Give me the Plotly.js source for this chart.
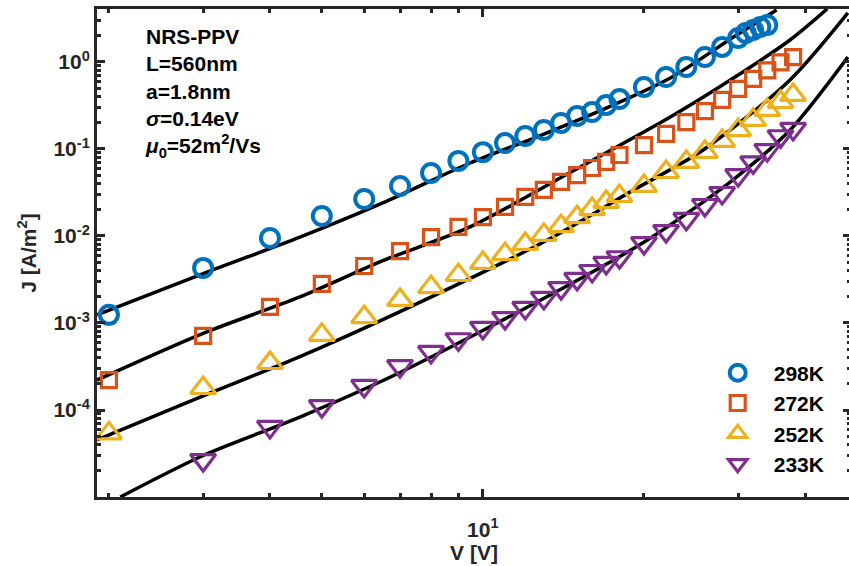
<!DOCTYPE html>
<html>
<head>
<meta charset="utf-8">
<script src="https://cdn.plot.ly/plotly-3.0.1.min.js"></script>
<style>
html,body{margin:0;padding:0;overflow:hidden;background:#fff;}
#chart{width:851px;height:566px;}
</style>
</head>
<body>
<div id="chart"></div>
<script>
// ---- data ----
const seriesNames = ["298K", "272K", "252K", "233K"];

const v298 = [2,3,4,5,6,7,8,9,10,11,12,13,14,15,16,17,18,20,22,24,26,28,30,31,32,33,34];
const j298 = [1.24e-3,4.3e-3,9.5e-3,0.017,0.0266,0.0376,0.053,0.073,0.092,0.117,0.141,0.165,0.199,0.239,0.266,0.321,0.376,0.516,0.673,0.877,1.14,1.49,1.89,2.15,2.33,2.53,2.66];

const v272 = [2,3,4,5,6,7,8,9,10,11,12,13,14,15,16,17,18,20,22,24,26,28,30,32,34,36,38];
const j272 = [2.21e-4,7.1e-4,1.53e-3,2.81e-3,4.52e-3,6.7e-3,9.7e-3,0.0127,0.0165,0.0216,0.0281,0.0338,0.0418,0.050,0.0605,0.071,0.0853,0.111,0.149,0.204,0.273,0.366,0.49,0.64,0.80,0.99,1.14];

const v252 = [2,3,4,5,6,7,8,9,10,11,12,13,14,15,16,17,18,20,22,24,26,28,30,32,34,36,38];
const j252 = [5.4e-5,1.79e-4,3.47e-4,7.3e-4,1.17e-3,1.84e-3,2.59e-3,3.56e-3,4.9e-3,6.2e-3,8.1e-3,0.0103,0.0130,0.0165,0.0204,0.0246,0.0288,0.0376,0.0544,0.071,0.0925,0.124,0.165,0.216,0.281,0.347,0.418];

const v233 = [3,4,5,6,7,8,9,10,11,12,13,14,15,16,17,18,20,22,24,26,28,30,32,34,36,38];
const j233 = [2.66e-5,6.4e-5,1.11e-4,1.89e-4,3.2e-4,4.65e-4,6.5e-4,8.8e-4,1.14e-3,1.49e-3,1.94e-3,2.52e-3,3.21e-3,3.96e-3,4.9e-3,5.7e-3,8.3e-3,0.0114,0.0157,0.0227,0.0312,0.05,0.07,0.097,0.14,0.17];

// model curves
const fitV298 = [1.9,3.0,4.55,6.5,9.46,12.6,16.7,22.4,29.8,35.4];
const fitJ298 = [1.24e-3,3.7e-3,9.7e-3,0.024,0.069,0.137,0.281,0.655,2.04,3.96];
const fitV272 = [1.9,3.0,4.55,6.5,9.46,14.5,22.4,29.8,37.5,44.0];
const fitJ272 = [2.21e-4,7.6e-4,1.99e-3,5.2e-3,0.0127,0.053,0.233,0.69,1.79,4.07];
const fitV252 = [1.9,3.0,4.55,7.0,13.2,19.0,25.8,37.5,48.1];
const fitJ252 = [4.52e-5,1.45e-4,4.1e-4,1.35e-3,9.0e-3,0.033,0.0974,0.621,3.66];
const fitV233 = [2.1,3.0,4.55,7.0,13.9,20.3,29.3,37.5,48.1];
const fitJ233 = [1.0e-5,3.0e-5,8.3e-5,2.7e-4,2.39e-3,9.0e-3,0.044,0.165,1.14];

const xMajor = [10];
const xMajorText = ["10<sup>1</sup>"];
const xMinor = [2,3,4,5,6,7,8,9,20,30,40];
const yMajor = [1e-4,1e-3,1e-2,1e-1,1];
const yMajorText = ["10<sup>-4</sup>","10<sup>-3</sup>","10<sup>-2</sup>","10<sup>-1</sup>","10<sup>0</sup>"];
const yMinor = [];
[1e-5,1e-4,1e-3,1e-2,1e-1,1].forEach(d => { for (let k = 2; k <= 9; k++) yMinor.push(k*d); });

const colors = ["#0072BD", "#D95319", "#EDB120", "#7E2F8E"];
const FONT = "Liberation Sans, Arial, sans-serif";
const AX = "#262626";

function fitTrace(x, y) {
  return {x: x, y: y, mode: "lines", type: "scatter", showlegend: false,
          line: {color: "#000000", width: 3.5, shape: "spline", smoothing: 0.8}, hoverinfo: "skip"};
}
function dataTrace(x, y, name, sym, color, size, lw) {
  return {x: x, y: y, mode: "markers", type: "scatter", name: name,
          marker: {symbol: sym, size: size, color: color, line: {color: color, width: lw}}};
}

const traces = [
  fitTrace(fitV298, fitJ298), fitTrace(fitV272, fitJ272),
  fitTrace(fitV252, fitJ252), fitTrace(fitV233, fitJ233),
  dataTrace(v298, j298, seriesNames[0], "circle-open", colors[0], 18, 4),
  dataTrace(v272, j272, seriesNames[1], "square-open", colors[1], 15, 3.2),
  dataTrace(v252, j252, seriesNames[2], "triangle-up-open", colors[2], 22, 3.2),
  dataTrace(v233, j233, seriesNames[3], "triangle-down-open", colors[3], 22, 3.2)
];

const axisCommon = {
  type: "log", showgrid: false, zeroline: false,
  showline: true, linecolor: AX, linewidth: 3, mirror: "ticks",
  ticks: "inside", ticklen: 8, tickwidth: 3, tickcolor: AX,
  tickmode: "array",
  tickfont: {family: FONT, size: 21, color: AX, weight: "bold"}
};

const layout = {
  width: 851, height: 566,
  margin: {l: 97, r: 0, t: 9, b: 69},
  paper_bgcolor: "#ffffff", plot_bgcolor: "#ffffff",
  font: {family: FONT, size: 20, color: AX, weight: "bold"},
  xaxis: Object.assign({}, axisCommon, {
    range: [Math.log10(1.9), 1.688],
    tickvals: xMajor, ticktext: xMajorText,
    ticklabelstandoff: 12,
    minor: {tickmode: "array", tickvals: xMinor, ticks: "inside", ticklen: 4, tickwidth: 3, tickcolor: AX},
    title: {text: "V [V]", font: {family: FONT, size: 21, color: AX, weight: "bold"}, standoff: 6}
  }),
  yaxis: Object.assign({}, axisCommon, {
    range: [-5.0, 0.609],
    tickvals: yMajor, ticktext: yMajorText,
    minor: {tickmode: "array", tickvals: yMinor, ticks: "inside", ticklen: 4, tickwidth: 3, tickcolor: AX},
    title: {text: "J [A/m<sup>2</sup>]", font: {family: FONT, size: 21, color: AX, weight: "bold"}, standoff: 12}
  }),
  legend: {
    x: 0.802, y: 0.296, xanchor: "left", yanchor: "top",
    bgcolor: "rgba(0,0,0,0)", borderwidth: 0,
    font: {family: FONT, size: 21, color: "#000000", weight: "bold"},
    itemwidth: 62, tracegroupgap: 0
  },
  annotations: [{
    xref: "paper", yref: "paper", x: 0.061, y: 0.972, xanchor: "left", yanchor: "top",
    align: "left", showarrow: false,
    font: {family: FONT, size: 21, color: "#000000", weight: "bold"},
    text: "NRS-PPV<br>L=560nm<br>a=1.8nm<br><i>σ</i>=0.14eV<br><i>μ</i><sub>0</sub>=52m<sup>2</sup>/Vs"
  }]
};

Plotly.newPlot("chart", traces, layout, {displayModeBar: false, staticPlot: true});
</script>
</body>
</html>
